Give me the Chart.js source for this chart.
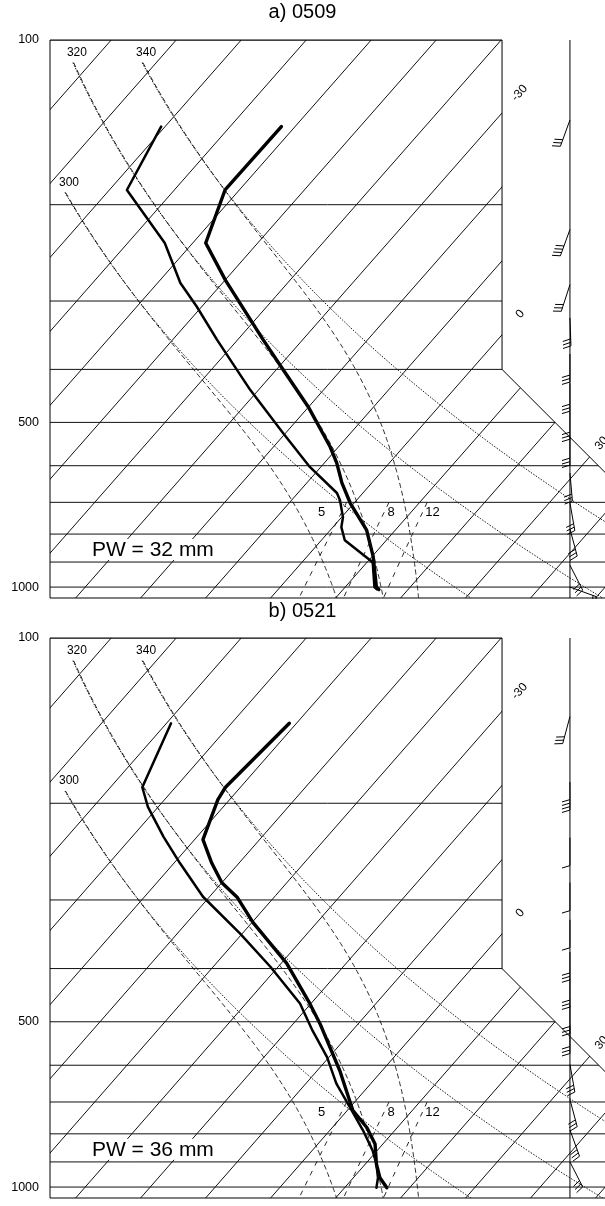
<!DOCTYPE html>
<html>
<head>
<meta charset="utf-8">
<title>Soundings 0509 / 0521</title>
<script src="https://cdn.jsdelivr.net/npm/chart.js@4.4.1/dist/chart.umd.min.js"></script>
<style>
  html, body { margin: 0; padding: 0; background: #fff; }
  #page { position: relative; width: 605px; height: 1206px; overflow: hidden; }
  .panel { position: absolute; left: 0; width: 605px; }
</style>
</head>
<body>
<div id="page">
  <div class="panel" style="top:0; height:599px"><canvas id="soundingA"></canvas></div>
  <div class="panel" style="top:599px; height:607px"><canvas id="soundingB"></canvas></div>
</div>
<script>
// --- diagram background ---
const ISOBARS = [100, 200, 300, 400, 500, 600, 700, 800, 900, 1000];
const ISOTHERMS = [-100, -90, -80, -70, -60, -50, -40, -30, -20, -10, 0, 10, 20, 30, 40, 50];
const P_TICKS = [100, 500, 1000];
const ISOTHERM_LABELS = [-30, 0, 30];
const ISOTHERM_LABEL_P = [125, 317, 546];
const THETA_LINES = [300, 320, 340];   // K : dry adiabats (dotted) + pseudo-adiabats (dashed)
const THETA_TOP_P = [190, 110, 110];
const MIXING_RATIOS = [5, 8, 12];      // g/kg
const MIXING_TOP_P = 700;
const MIXING_LABEL_P = 730;

// --- a) 0509 ---
const A_TITLE = 'a) 0509';
const A_PW = 'PW = 32 mm';
const A_T_P = [1010, 1000, 880, 787, 702, 645, 593, 554, 468, 396, 353, 275, 235, 188, 144];
const A_T = [15.5, 14.8, 10.2, 5.6, -0.6, -4.6, -8.1, -11.3, -20.1, -29.6, -36.1, -49.9, -58.0, -62.2, -62.1];
const A_TD_P = [1010, 1000, 904, 893, 821, 777, 745, 693, 673, 603, 523, 436, 353, 307, 278, 235, 188, 144];
const A_TD = [15.2, 14.5, 11.0, 10.2, 3.6, 1.3, 0.2, -2.6, -4.0, -11.7, -20.4, -31.3, -43.2, -50.8, -56.5, -64.3, -77.3, -80.6];
const A_WIND_P = [140, 222, 280, 322, 375, 424, 477, 532, 619, 702, 783, 912, 1000];
const A_WIND_DIR = [200, 200, 198, 178, 180, 180, 180, 180, 175, 170, 165, 153, 110];
const A_WIND_SPD = [30, 40, 30, 30, 30, 30, 30, 30, 30, 30, 30, 30, 20];

// --- b) 0521 ---
const B_TITLE = 'b) 0521';
const B_PW = 'PW = 36 mm';
const B_T_P = [1003, 962, 908, 835, 779, 726, 614, 504, 463, 391, 330, 297, 279, 257, 233, 197, 187, 143];
const B_T = [16.5, 14.1, 11.7, 8.8, 5.3, 0.9, -6.5, -15.9, -20.2, -29.2, -39.8, -45.6, -50.0, -54.2, -58.7, -61.8, -62.3, -61.1];
const B_TD_P = [1003, 962, 908, 860, 790, 716, 648, 580, 519, 463, 397, 345, 296, 257, 230, 203, 187, 143];
const B_TD = [14.9, 13.8, 11.7, 9.4, 5.2, 0.0, -5.3, -10.3, -16.1, -21.7, -31.2, -40.4, -51.0, -59.1, -65.2, -71.6, -75.1, -79.3];
const B_WIND_P = [139, 183, 231, 279, 326, 373, 418, 467, 508, 598, 693, 787, 900];
const B_WIND_DIR = [195, 180, 180, 180, 180, 180, 180, 180, 180, 170, 165, 160, 153];
const B_WIND_SPD = [30, 40, 10, 10, 10, 30, 30, 30, 30, 30, 30, 30, 30];

// --- layout of the skew-T ---
const SKEW = 74, P_REF = 1050;
const X_MIN = -33.85, X_MAX = 51.54;
const FRAME_X = 35.7, FRAME_P = 400;
const STAFF_X = 46.15;
const PW_X = -27.4, PW_P = 852;
const MIX_LABEL_DX = [-20, 7, 10];
const FONT = "'Liberation Sans', Arial, Helvetica, sans-serif";
Chart.defaults.font.family = FONT;

const skewX = (t, p) => t + SKEW * Math.log10(P_REF / p);
const dryT = (th, p) => th * Math.pow(p / 1000, 0.2857) - 273.15;
const satVap = t => 6.112 * Math.exp(17.67 * t / (t + 243.5));

function thetaE(t, p) {
  const e = satVap(t);
  if (e >= p * 0.9) return 1e9;
  const r = 622 * e / (p - e), tk = t + 273.15;
  return tk * Math.pow(1000 / p, 0.2854 * (1 - 0.00028 * r)) *
    Math.exp((3.376 / tk - 0.00254) * r * (1 + 0.00081 * r));
}
function moistT(th, p) {
  let lo = -150, hi = 45;
  for (let i = 0; i < 50; i++) {
    const mid = (lo + hi) / 2;
    if (thetaE(mid, p) > th) hi = mid; else lo = mid;
  }
  return (lo + hi) / 2;
}
function mixT(w, p) {
  const l = Math.log(w * p / (622 + w) / 6.112);
  return 243.5 * l / (17.67 - l);
}
function levels(top, bottom, step) {
  const out = [];
  for (let p = top; p < bottom; p += step) out.push(p);
  out.push(bottom);
  return out;
}

function lineSet(points, style) {
  return Object.assign({
    data: points, showLine: true, pointRadius: 0, fill: false, tension: 0,
    borderColor: '#111', borderWidth: 1
  }, style);
}

function backgroundSets() {
  const sets = [];
  ISOBARS.forEach(p => sets.push(lineSet([{x: X_MIN - 10, y: p}, {x: X_MAX + 40, y: p}], {})));
  ISOTHERMS.forEach(t => sets.push(lineSet([{x: skewX(t, 1100), y: 1100}, {x: skewX(t, 90), y: 90}], {})));
  THETA_LINES.forEach((th, i) => {
    const ps = levels(THETA_TOP_P[i], 1100, 5);
    sets.push(lineSet(ps.map(p => ({x: skewX(dryT(th, p), p), y: p})), {borderDash: [1.5, 1.5], borderWidth: 1}));
    sets.push(lineSet(ps.map(p => ({x: skewX(moistT(th, p), p), y: p})), {borderDash: [5, 3], borderWidth: 0.9}));
  });
  MIXING_RATIOS.forEach(w => {
    const ps = levels(MIXING_TOP_P, 1100, 25);
    sets.push(lineSet(ps.map(p => ({x: skewX(mixT(w, p), p), y: p})), {borderDash: [5, 6], borderWidth: 0.9}));
  });
  return sets;
}

function profileSet(ps, ts, width) {
  return lineSet(ps.map((p, i) => ({x: skewX(ts[i], p), y: p})),
    {borderColor: '#000', borderWidth: width, borderJoinStyle: 'round', borderCapStyle: 'round'});
}

function framePath(chart) {
  const ctx = chart.ctx, {left, top, bottom} = chart.chartArea;
  const xr = chart.scales.x.getPixelForValue(FRAME_X);
  const yc = chart.scales.y.getPixelForValue(FRAME_P);
  ctx.beginPath();
  ctx.moveTo(left, top);
  ctx.lineTo(xr, top);
  ctx.lineTo(xr, yc);
  ctx.lineTo(xr + (bottom - yc), bottom);
  ctx.lineTo(left, bottom);
  ctx.closePath();
}

function drawBarb(ctx, x0, y0, dir, spd) {
  const a = dir * Math.PI / 180, ux = Math.sin(a), uy = -Math.cos(a);
  const fx = -uy, fy = ux, L = 28, F = 8, gap = 3.5;
  ctx.beginPath();
  ctx.moveTo(x0, y0);
  ctx.lineTo(x0 + ux * L, y0 + uy * L);
  const feather = (d, len) => {
    const bx = x0 + ux * d, by = y0 + uy * d;
    ctx.moveTo(bx, by);
    ctx.lineTo(bx + fx * len + ux * len * 0.3, by + fy * len + uy * len * 0.3);
  };
  let d = L, s = spd;
  while (s >= 10) { feather(d, F); d -= gap; s -= 10; }
  if (s >= 5) feather(d, F / 2);
  ctx.stroke();
}

function skewPlugin(panel) {
  return {
    id: 'skewt',
    beforeDatasetsDraw(chart) {
      chart.ctx.save();
      framePath(chart);
      chart.ctx.clip();
    },
    afterDatasetsDraw(chart) {
      const ctx = chart.ctx;
      ctx.restore();
      const xs = chart.scales.x, ys = chart.scales.y;
      ctx.save();
      framePath(chart);
      ctx.lineWidth = 1;
      ctx.strokeStyle = '#000';
      ctx.stroke();

      ctx.fillStyle = '#000';
      ctx.font = '12px ' + FONT;
      ctx.textAlign = 'center';
      ctx.textBaseline = 'middle';
      THETA_LINES.forEach((th, i) => {
        const p = THETA_TOP_P[i];
        ctx.fillText(String(th), xs.getPixelForValue(skewX(dryT(th, p), p)) + 4, ys.getPixelForValue(p) - 10);
      });

      const ang = Math.atan2(ys.getPixelForValue(100) - ys.getPixelForValue(1000),
        xs.getPixelForValue(skewX(0, 100)) - xs.getPixelForValue(skewX(0, 1000)));
      ISOTHERM_LABELS.forEach((t, i) => {
        const p = ISOTHERM_LABEL_P[i];
        ctx.save();
        ctx.translate(xs.getPixelForValue(skewX(t, p)), ys.getPixelForValue(p));
        ctx.rotate(ang);
        ctx.fillText(String(t), 0, 0);
        ctx.restore();
      });

      ctx.font = '13px ' + FONT;
      MIXING_RATIOS.forEach((w, i) => {
        const p = MIXING_LABEL_P;
        ctx.fillText(String(w), xs.getPixelForValue(skewX(mixT(w, p), p)) + MIX_LABEL_DX[i], ys.getPixelForValue(p));
      });

      // precipitable water note
      ctx.font = '21px ' + FONT;
      ctx.textAlign = 'left';
      const px = xs.getPixelForValue(PW_X), py = ys.getPixelForValue(PW_P);
      const wd = ctx.measureText(panel.pw).width;
      ctx.fillStyle = '#fff';
      ctx.fillRect(px - 3, py - 10, wd + 6, 21);
      ctx.fillStyle = '#000';
      ctx.fillText(panel.pw, px, py + 1);

      // wind staff + barbs
      const sx = xs.getPixelForValue(STAFF_X);
      ctx.lineWidth = 1;
      ctx.beginPath();
      ctx.moveTo(sx, ys.getPixelForValue(100));
      ctx.lineTo(sx, ys.getPixelForValue(1047));
      ctx.stroke();
      panel.windP.forEach((p, i) => drawBarb(ctx, sx, ys.getPixelForValue(p), panel.windDir[i], panel.windSpd[i]));
      ctx.restore();
    }
  };
}

function makeSounding(id, panel, padBottom, titleGap) {
  return new Chart(document.getElementById(id), {
    type: 'scatter',
    data: {
      datasets: backgroundSets().concat([
        profileSet(panel.tdP, panel.td, 2.5),
        profileSet(panel.tP, panel.t, 3.4)
      ])
    },
    options: {
      responsive: true,
      maintainAspectRatio: false,
      animation: false,
      events: [],
      layout: { padding: { left: 0, right: 0, top: 0, bottom: padBottom } },
      plugins: {
        legend: { display: false },
        tooltip: { enabled: false },
        title: {
          display: true, text: panel.title, color: '#000',
          font: { size: 20, weight: 'normal' },
          padding: { top: 0, bottom: titleGap }
        }
      },
      scales: {
        x: { type: 'linear', min: X_MIN, max: X_MAX, display: false },
        y: {
          type: 'logarithmic', reverse: true, min: 100, max: 1047, position: 'left',
          grid: { display: false, drawTicks: false },
          border: { display: false },
          afterBuildTicks: s => { s.ticks = P_TICKS.map(v => ({ value: v })); },
          afterFit: s => { s.width = 50; s.paddingTop = 0; s.paddingBottom = 0; },
          ticks: { autoSkip: false, color: '#000', font: { size: 12.5 }, padding: 11, callback: v => String(v) }
        }
      }
    },
    plugins: [skewPlugin(panel)]
  });
}

makeSounding('soundingA', {
  title: A_TITLE, pw: A_PW, tP: A_T_P, t: A_T, tdP: A_TD_P, td: A_TD,
  windP: A_WIND_P, windDir: A_WIND_DIR, windSpd: A_WIND_SPD
}, 1, 16);

makeSounding('soundingB', {
  title: B_TITLE, pw: B_PW, tP: B_T_P, t: B_T, tdP: B_TD_P, td: B_TD,
  windP: B_WIND_P, windDir: B_WIND_DIR, windSpd: B_WIND_SPD
}, 8, 15);
</script>
</body>
</html>
